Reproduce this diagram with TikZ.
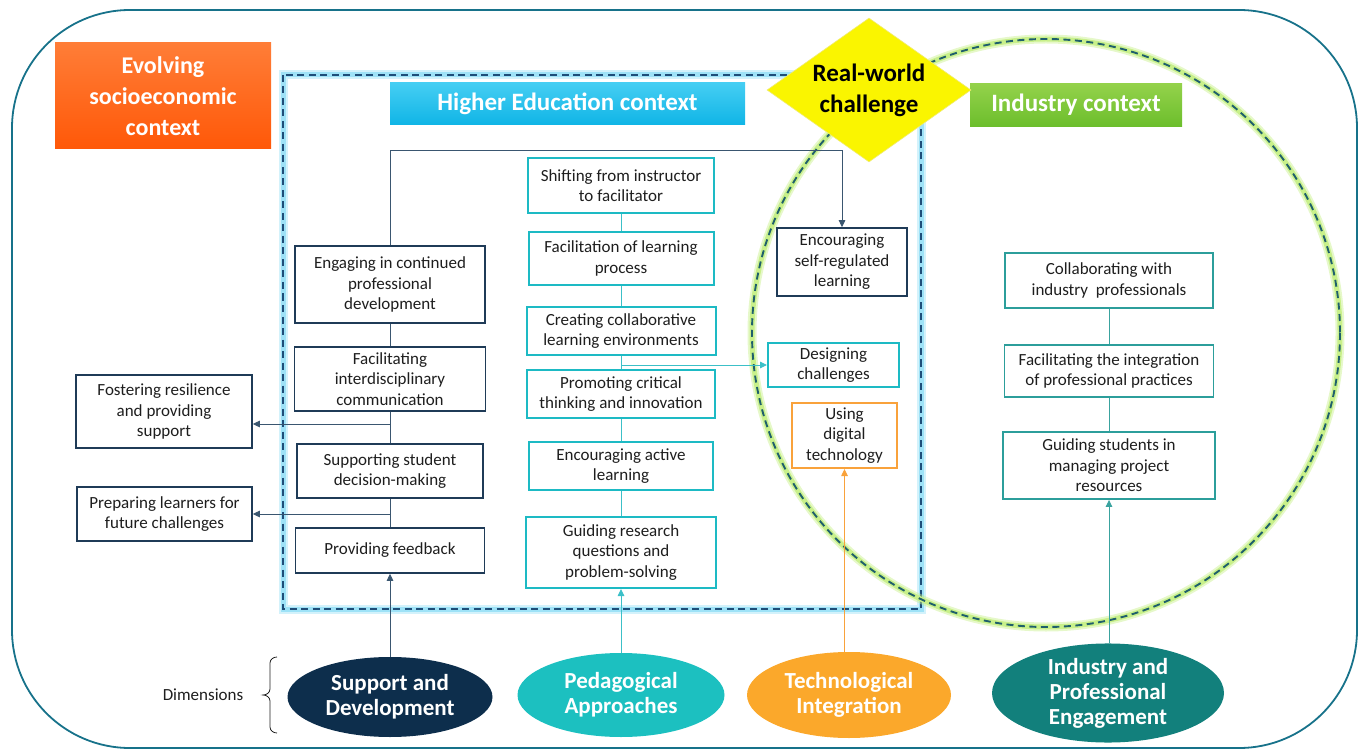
\documentclass[tikz,border=0pt]{standalone}
\usepackage{fontspec}
\setmainfont{Carlito}
\usetikzlibrary{shapes.geometric,arrows.meta}

\definecolor{frameblue}{HTML}{17728A}
\definecolor{navyb}{HTML}{1F3B57}
\definecolor{navylink}{HTML}{3A5670}
\definecolor{cyanb}{HTML}{1DBAC4}
\definecolor{cyanlink}{HTML}{3CC0C8}
\definecolor{tealb}{HTML}{2C9E9B}
\definecolor{teallink}{HTML}{3AA39F}
\definecolor{orangeb}{HTML}{F9A23B}
\definecolor{txt}{HTML}{1E1E1E}
\definecolor{dashnavy}{HTML}{1F4E79}
\definecolor{glowblue}{HTML}{9EE2F7}
\definecolor{dashteal}{HTML}{1F5F6B}
\definecolor{glowgreen}{HTML}{C8F08A}
\definecolor{sdfill}{HTML}{0D2E4C}
\definecolor{pafill}{HTML}{1CC0C0}
\definecolor{tifill}{HTML}{FBA82B}
\definecolor{ipfill}{HTML}{12807C}

\tikzset{
  box/.style={draw, fill=white, align=center, inner sep=2pt, text=txt,
    font=\fontsize{17}{20.5}\selectfont},
  lbox/.style={box, draw=navyb, line width=1.6pt},
  mbox/.style={box, draw=cyanb, line width=2pt},
  rbox/.style={box, draw=tealb, line width=1.8pt},
  obox/.style={box, draw=orangeb, line width=2pt},
  link/.style={line width=0.9pt},
  arr/.style={link, -{Triangle[length=7pt,width=6.5pt]}},
  headbox/.style={align=center, text=white, inner sep=0pt,
    font=\bfseries\fontsize{25}{31}\selectfont},
  dimell/.style={ellipse, align=center, text=white, inner sep=0pt,
    font=\bfseries\fontsize{23}{25}\selectfont},
  dashline/.style={line width=1.9pt, dash pattern=on 7pt off 4.5pt},
}

\begin{document}
\begin{tikzpicture}[x=1pt,y=-1pt]
\useasboundingbox (0,0) rectangle (1365,751);

% outer frame
\draw[frameblue, line width=1.8pt, rounded corners=118pt] (12,10) rectangle (1357,748);

% higher education area: glow and dashed border
\draw[glowblue, line width=9pt, opacity=0.45] (283,75) rectangle (921,609);
\draw[glowblue, line width=5pt] (283,75) rectangle (921,609);
\draw[dashnavy, dashline] (283,75) rectangle (921,609);

% industry area: glow and dashed circle
\draw[glowgreen, line width=9pt, opacity=0.45] (1046,333) circle (294);
\draw[glowgreen, line width=5pt] (1046,333) circle (294);
\draw[dashteal, dashline] (1046,333) circle (294);

% header boxes
\node[headbox, minimum width=216pt, minimum height=106pt,
  top color={rgb,255:red,255;green,125;blue,55}, bottom color={rgb,255:red,255;green,88;blue,8},
  font=\bfseries\fontsize{24}{31}\selectfont]
  (socio) at (163,96) {Evolving\\socioeconomic\\context};
\node[headbox, minimum width=355pt, minimum height=42pt,
  top color={rgb,255:red,70;green,206;blue,243}, bottom color={rgb,255:red,16;green,181;blue,230}]
  (he) at (567.5,103.5) {Higher Education context};
\node[headbox, minimum width=212pt, minimum height=43pt,
  top color={rgb,255:red,148;green,210;blue,75}, bottom color={rgb,255:red,108;green,190;blue,44}]
  (ind) at (1076,105) {Industry context};
\node[diamond, aspect=1.42, inner sep=0pt, minimum width=204pt, minimum height=144pt,
  fill={rgb,255:red,250;green,245;blue,0}, draw={rgb,255:red,240;green,235;blue,120}, line width=0.6pt,
  align=center, text=black, font=\bfseries\fontsize{25}{31}\selectfont]
  (rw) at (869,90) {Real-world\\challenge};

% support and development column
\node[lbox, minimum width=190pt, minimum height=77pt] (eng) at (390,284.5)
  {Engaging in continued\\professional\\development};
\node[lbox, minimum width=191pt, minimum height=64pt] (fac) at (390,379)
  {Facilitating\\interdisciplinary\\communication};
\node[lbox, minimum width=186pt, minimum height=54pt] (sup) at (390,471)
  {Supporting student\\decision-making};
\node[lbox, minimum width=189pt, minimum height=45pt] (fb) at (390,550.5)
  {Providing feedback};
\node[lbox, minimum width=176pt, minimum height=73pt] (fos) at (164,411.5)
  {Fostering resilience\\and providing\\support};
\node[lbox, minimum width=175pt, minimum height=54pt] (prep) at (164.5,514)
  {Preparing learners for\\future challenges};
\node[lbox, minimum width=130pt, minimum height=68pt] (enc) at (842,262)
  {Encouraging\\self-regulated\\learning};

% pedagogical column
\node[mbox, minimum width=186pt, minimum height=55pt] (shift) at (621,185.5)
  {Shifting from instructor\\to facilitator};
\node[mbox, minimum width=185pt, minimum height=53pt] (facl) at (621,258.5)
  {Facilitation of learning\\process};
\node[mbox, minimum width=189pt, minimum height=48pt] (crea) at (621,331)
  {Creating collaborative\\learning environments};
\node[mbox, minimum width=188pt, minimum height=48pt] (prom) at (621,394)
  {Promoting critical\\thinking and innovation};
\node[mbox, minimum width=184pt, minimum height=48pt] (act) at (621,466)
  {Encouraging active\\learning};
\node[mbox, minimum width=190pt, minimum height=71pt] (guid) at (621,552.5)
  {Guiding research\\questions and\\problem-solving};
\node[mbox, minimum width=131pt, minimum height=44pt] (des) at (833.5,365)
  {Designing\\challenges};
\node[obox, minimum width=105pt, minimum height=65pt] (dig) at (844.5,435.5)
  {Using\\digital\\technology};

% industry column
\node[rbox, minimum width=208pt, minimum height=55pt] (col) at (1109,280.5)
  {Collaborating with\\industry\ \ professionals};
\node[rbox, minimum width=209pt, minimum height=52pt] (fint) at (1109,371)
  {Facilitating the integration\\of professional practices};
\node[rbox, minimum width=212pt, minimum height=67pt] (gstu) at (1109,465.5)
  {Guiding students in\\managing project\\resources};

% dimensions
\node[dimell, fill=sdfill, minimum width=205pt, minimum height=80pt] (sd) at (390,697)
  {Support and\\Development};
\node[dimell, fill=pafill, minimum width=207pt, minimum height=84pt] (pa) at (621,695)
  {Pedagogical\\Approaches};
\node[dimell, fill=tifill, minimum width=204pt, minimum height=86pt] (ti) at (849,695)
  {Technological\\Integration};
\node[dimell, fill=ipfill, minimum width=232pt, minimum height=88pt] (ip) at (1108,693)
  {Industry and\\Professional\\Engagement};
\node[text=txt, font=\fontsize{17}{20.5}\selectfont, inner sep=0pt] (dim) at (203,695) {Dimensions};
\draw[txt, line width=0.8pt] (277,657) to[out=180,in=90] (270,663) -- (270,689)
  to[out=-90,in=0] (263,695) to[out=0,in=90] (270,701) -- (270,727)
  to[out=-90,in=180] (277,733);

% connectors: support and development
\coordinate (topy) at (0,150);
\coordinate (j1) at (390,424);
\draw[arr, navylink] (eng.north) |- (enc.north |- topy) -- (enc.north);
\draw[link, navylink] (eng.south) -- (fac.north);
\draw[link, navylink] (fac.south) -- (sup.north);
\draw[link, navylink] (sup.south) -- (fb.north);
\draw[arr, navylink] (j1) -- (j1 -| fos.east);
\draw[arr, navylink] (sup.south |- prep.east) -- (prep.east);
\draw[arr, navylink] (sd.north) -- (fb.south);

% connectors: pedagogical
\draw[link, cyanlink] (shift.south) -- (facl.north);
\draw[link, cyanlink] (facl.south) -- (crea.north);
\draw[link, cyanlink] (crea.south) -- (prom.north);
\draw[link, cyanlink] (prom.south) -- (act.north);
\draw[link, cyanlink] (act.south) -- (guid.north);
\draw[arr, cyanlink] (crea.south |- des.west) -- (des.west);
\draw[arr, cyanlink] (pa.north) -- (guid.south);

% connectors: technology
\draw[arr, orangeb] (dig.south |- ti.north) -- (dig.south);

% connectors: industry
\draw[link, teallink] (col.south) -- (fint.north);
\draw[link, teallink] (fint.south) -- (gstu.north);
\draw[arr, teallink] (gstu.south |- ip.north) -- (gstu.south);
\end{tikzpicture}
\end{document}
